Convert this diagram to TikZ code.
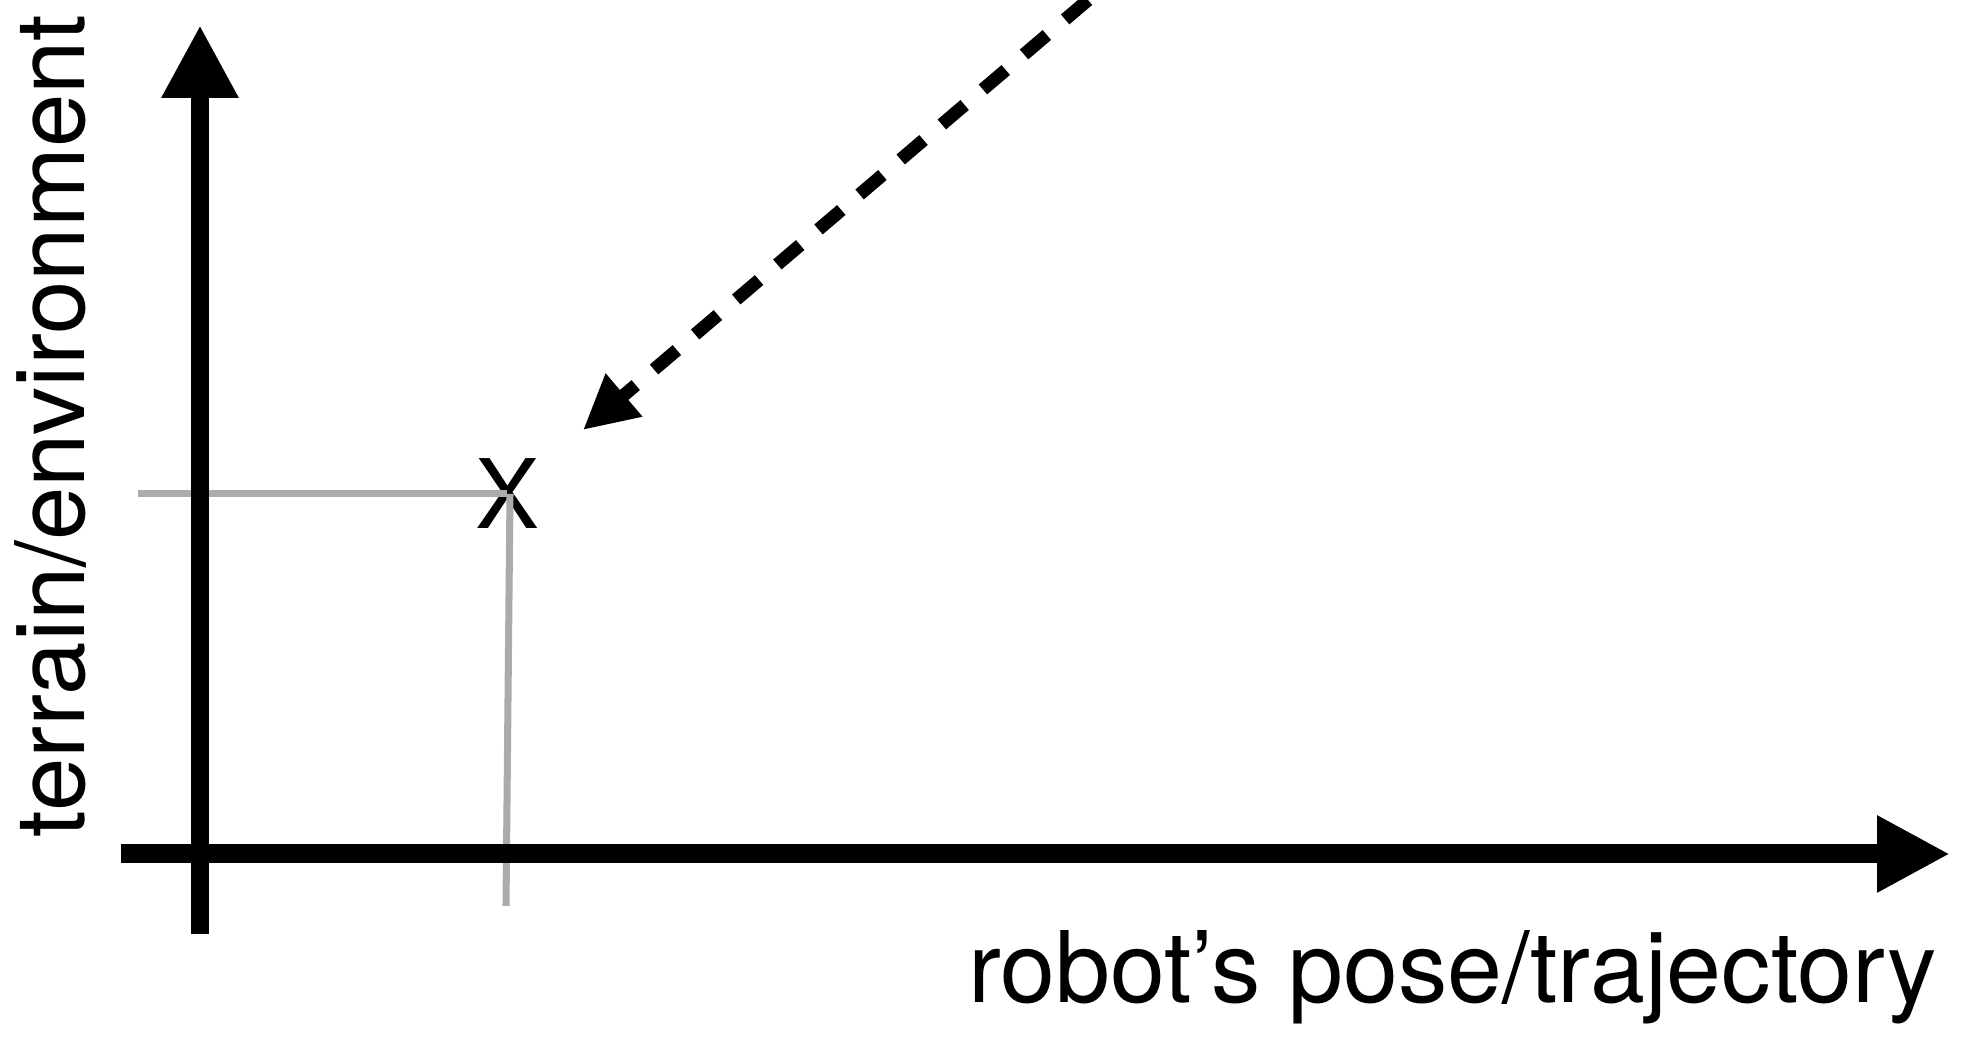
\documentclass[tikz,border=0pt]{standalone}
\usepackage{fontspec}
\setmainfont{TeX Gyre Heros}
\usepackage{tikz}
\usetikzlibrary{arrows.meta, positioning}

\begin{document}
\begin{tikzpicture}[
    axis/.style={line width=5.4pt, -{Triangle[length=7.3mm, width=7.2mm]}},
    guide/.style={draw=black!33, line width=2pt},
    hint/.style={line width=3.7pt, dash pattern=on 3mm off 2.4mm, -{Triangle[length=5.4mm, width=5.3mm]}},
    lbl/.style={inner sep=0pt, font=\fontsize{27.3}{30}\selectfont}
]
\useasboundingbox (0,0) rectangle (19.73,10.37);

% Coordinates
\coordinate (ybot) at (2.00,1.03);
\coordinate (ytip) at (2.00,10.12);
\coordinate (xleft) at (1.21,1.83);
\coordinate (xtip) at (19.50,1.83);
\coordinate (gleft) at (1.38,5.43);
\coordinate (gbot) at (5.06,1.31);
\coordinate (hstart) at (10.88,10.37);
\coordinate (htip) at (5.83,6.07);

% Nodes
\node[lbl] (pt) at (5.07,5.43) {X};
\node[lbl, rotate=90, anchor=base west] (ylab) at (0.85,1.99) {terrain/environment};
\node[lbl, font=\fontsize{28.1}{30}\selectfont, anchor=base east] (xlab) at (19.38,0.34) {robot's pose/trajectory};

% Edges
\draw[guide] (gleft) -- (pt.center);
\draw[guide] ([xshift=0.03cm]pt.center) -- (gbot);
\draw[axis] (ybot) -- (ytip);
\draw[axis] (xleft) -- (xtip);
\draw[hint] (hstart) -- (htip);

\end{tikzpicture}
\end{document}
